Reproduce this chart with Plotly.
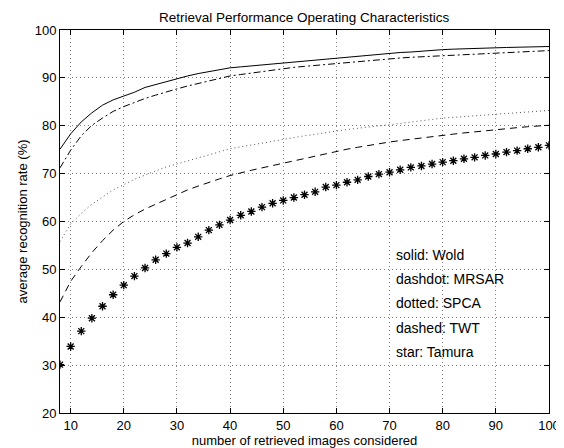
import plotly.graph_objects as go

x_vals = list(range(8, 101, 2))

wold = [75.1, 78.3, 80.8, 82.7, 84.3, 85.4, 86.2, 87.0, 88.0, 88.6, 89.3, 89.9, 90.4, 90.9, 91.3, 91.7,
        92.1, 92.3, 92.5, 92.8, 93.0, 93.2, 93.4, 93.6, 93.8, 94.0, 94.2, 94.4, 94.6, 94.8, 95.0, 95.2,
        95.3, 95.4, 95.6, 95.75, 95.9, 96.0, 96.1, 96.15, 96.25, 96.3, 96.35, 96.4, 96.45, 96.5, 96.55]

mrsar = [71.2, 74.9, 77.9, 80.1, 81.6, 83.0, 84.0, 84.9, 85.7, 86.4, 87.1, 87.7, 88.3, 88.8, 89.4, 89.9,
         90.4, 90.7, 91.0, 91.4, 91.7, 91.95, 92.2, 92.4, 92.6, 92.8, 93.0, 93.3, 93.5, 93.7, 93.85, 94.0,
         94.15, 94.3, 94.4, 94.55, 94.7, 94.8, 94.9, 95.0, 95.1, 95.2, 95.3, 95.4, 95.5, 95.6, 95.7]

spca = [55.8, 59.5, 61.7, 63.6, 65.1, 66.6, 67.7, 68.8, 69.7, 70.6, 71.4, 72.0, 72.7, 73.3, 73.9, 74.6,
        75.2, 75.6, 76.0, 76.4, 76.8, 77.2, 77.5, 77.9, 78.2, 78.6, 78.9, 79.2, 79.5, 79.8, 80.0, 80.2,
        80.5, 80.8, 81.1, 81.35, 81.6, 81.75, 81.9, 82.05, 82.2, 82.4, 82.6, 82.8, 82.95, 83.1, 83.2]

twt = [43.2, 47.5, 50.6, 53.5, 56.0, 58.2, 60.0, 61.4, 62.6, 63.6, 64.6, 65.7, 66.6, 67.4, 68.2, 68.9,
       69.6, 70.2, 70.7, 71.2, 71.7, 72.2, 72.7, 73.2, 73.7, 74.1, 74.6, 75.1, 75.5, 75.9, 76.3, 76.6,
       76.9, 77.2, 77.5, 77.8, 78.0, 78.25, 78.5, 78.75, 79.0, 79.2, 79.4, 79.6, 79.8, 80.0, 80.1]

tamura = [30.1, 33.9, 37.1, 39.8, 42.3, 44.7, 46.7, 48.6, 50.3, 52.0, 53.3, 54.6, 55.5, 56.8, 58.2, 59.3,
          60.3, 61.3, 62.1, 63.0, 63.8, 64.4, 65.0, 65.6, 66.2, 67.2, 67.6, 68.2, 68.7, 69.4, 69.9, 70.3,
          70.8, 71.3, 71.6, 72.0, 72.4, 72.7, 73.1, 73.4, 73.8, 74.1, 74.5, 74.8, 75.2, 75.5, 75.9]

x_ticks = [10, 20, 30, 40, 50, 60, 70, 80, 90, 100]
y_ticks = [20, 30, 40, 50, 60, 70, 80, 90, 100]

legend_texts = ["solid: Wold", "dashdot: MRSAR", "dotted: SPCA", "dashed: TWT", "star: Tamura"]
legend_y = [53.1, 48.0, 42.9, 37.8, 32.7]
legend_x = 70.8

title = "Retrieval Performance Operating Characteristics"
x_title = "number of retrieved images considered"
y_title = "average recognition rate (%)"

FONT = "Liberation Sans, Arial, Helvetica, sans-serif"

fig = go.Figure()
fig.add_trace(go.Scatter(x=x_vals, y=wold, mode="lines",
                         line=dict(color="black", width=1, dash="solid")))
fig.add_trace(go.Scatter(x=x_vals, y=mrsar, mode="lines",
                         line=dict(color="black", width=1, dash="7px,3px,2px,3px")))
fig.add_trace(go.Scatter(x=x_vals, y=spca, mode="lines",
                         line=dict(color="#555555", width=1, dash="1px,3px")))
fig.add_trace(go.Scatter(x=x_vals, y=twt, mode="lines",
                         line=dict(color="black", width=1, dash="7px,5px")))
fig.add_trace(go.Scatter(x=x_vals, y=tamura, mode="markers",
                         marker=dict(symbol="asterisk-open", size=7, color="black",
                                     line=dict(color="black", width=1.3))))

for t, yy in zip(legend_texts, legend_y):
    fig.add_annotation(x=legend_x, y=yy, text=t, showarrow=False, xanchor="left",
                       yanchor="middle", font=dict(size=14, color="black", family=FONT))

fig.add_annotation(x=0.5, y=1, xref="paper", yref="paper", text=title, showarrow=False,
                   xanchor="center", yanchor="bottom", yshift=3,
                   font=dict(size=13.5, color="black", family=FONT))

axis_common = dict(showline=True, linecolor="black", linewidth=1, mirror="ticks",
                   ticks="inside", ticklen=5, tickcolor="black",
                   showgrid=True, gridcolor="rgba(0,0,0,0.5)", gridwidth=1, griddash="1px,3px",
                   zeroline=False, tickfont=dict(size=13, color="black", family=FONT))

fig.update_xaxes(range=[8, 100], tickvals=x_ticks, ticktext=[str(v) for v in x_ticks],
                 title=dict(text=x_title, font=dict(size=13, color="black", family=FONT), standoff=2),
                 **axis_common)
fig.update_yaxes(range=[20, 100], tickvals=y_ticks, ticktext=[str(v) for v in y_ticks],
                 title=dict(text=y_title, font=dict(size=13, color="black", family=FONT), standoff=4),
                 **axis_common)

fig.update_layout(width=564, height=448, showlegend=False,
                  margin=dict(l=52, r=15, t=22, b=34),
                  plot_bgcolor="white", paper_bgcolor="white")

fig.write_html("out.html")
